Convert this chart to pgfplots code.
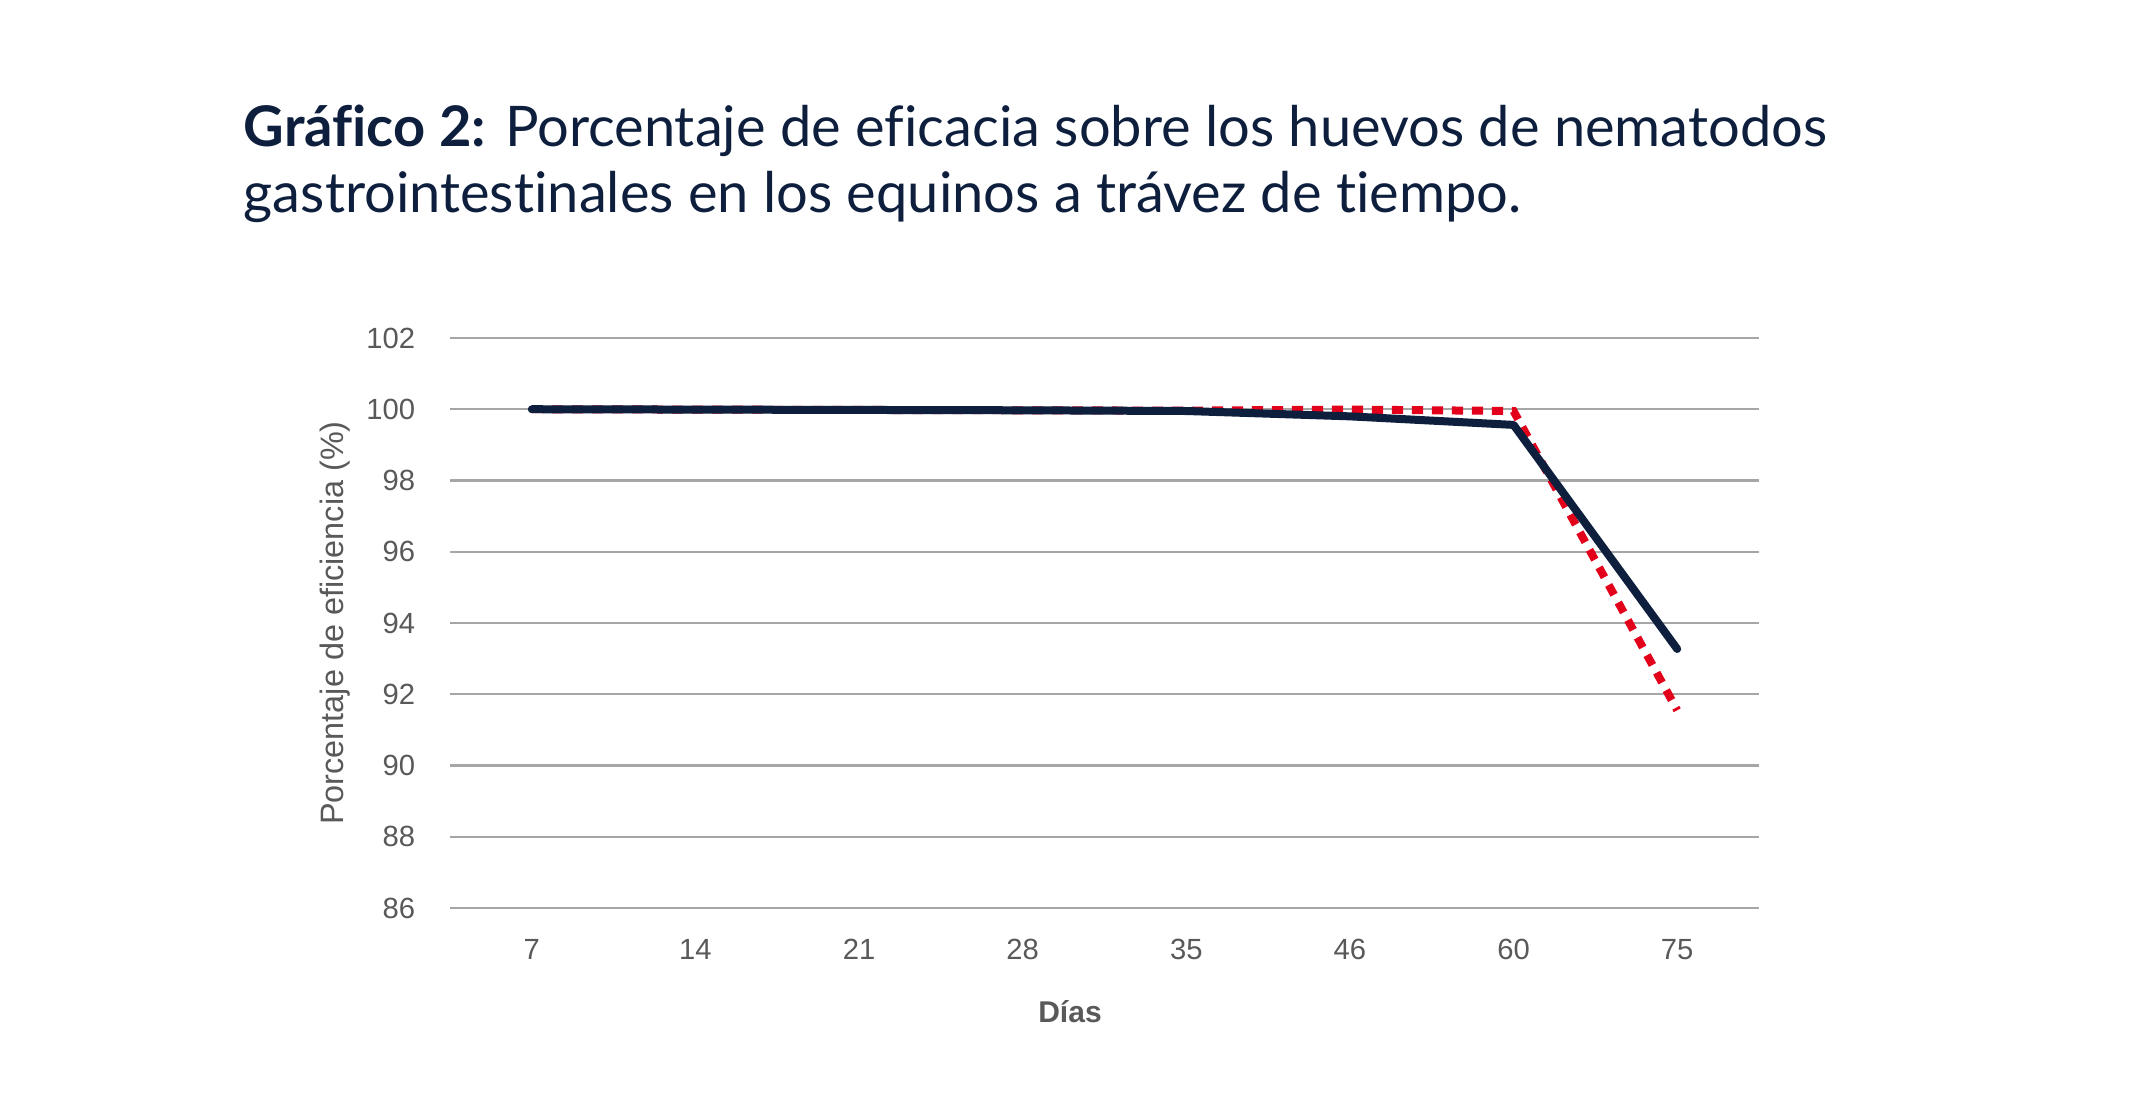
\documentclass[border=0pt]{standalone}
\usepackage{pgfplots}
\pgfplotsset{compat=1.18}
\usepackage{fontspec}
\setmainfont{Liberation Sans}
\newfontfamily\titlefont[Ligatures=NoCommon]{Lato}
\definecolor{navy}{HTML}{0E1F3E}
\definecolor{redd}{HTML}{E2001A}
\definecolor{gridg}{HTML}{A6A6A6}
\definecolor{txtg}{HTML}{595959}
\begin{document}
\begin{tikzpicture}
\path[use as bounding box] (0,0) rectangle (534.5pt,274.75pt);
\node[anchor=base west, inner sep=0pt, text=navy, font=\titlefont\fontsize{14}{16}\selectfont] at (60.75pt,238pt) {\textbf{Gráfico 2:} Porcentaje de eficacia sobre los huevos de nematodos};
\node[anchor=base west, inner sep=0pt, text=navy, font=\titlefont\fontsize{14}{16}\selectfont] at (60.75pt,221.5pt) {gastrointestinales en los equinos a trávez de tiempo.};
\begin{axis}[
  at={(112.5pt,47.75pt)}, anchor=south west,
  width=327.25pt, height=142.5pt, scale only axis,
  xmin=-0.5, xmax=7.5, ymin=86, ymax=102,
  xtick={0,...,7}, xticklabels={7,14,21,28,35,46,60,75},
  ytick={86,88,...,102},
  axis line style={draw=none},
  major tick length=0pt,
  ymajorgrids, grid style={gridg, line width=0.6pt},
  tick label style={font=\fontsize{7.3}{8}\selectfont, text=txtg},
  yticklabel style={anchor=east, inner sep=0pt, xshift=-8.5pt},
  xticklabel style={anchor=base, inner sep=0pt, yshift=-13pt},
  /pgf/number format/assume math mode=true,
  ylabel={Porcentaje de eficiencia (\%)},
  every axis y label/.style={at={(axis description cs:0,0.5)}, anchor=center, xshift=-28.8pt, rotate=90, font=\fontsize{8.1}{9}\selectfont, text=txtg},
  clip=false,
]
\addplot[redd, line width=2pt, dash pattern=on 2.8pt off 2.2pt] coordinates {(0,100) (1,99.99) (2,99.98) (3,99.97) (4,99.96) (5,99.99) (6,99.95) (7,91.55)};
\addplot[navy, line width=2pt, line cap=round, line join=round] coordinates {(0,100) (1,99.99) (2,99.98) (3,99.97) (4,99.95) (5,99.8) (6,99.56) (7,93.27)};
\end{axis}
\node[font=\bfseries\fontsize{7.5}{8}\selectfont, text=txtg] at (267.5pt,21.75pt) {Días};
\end{tikzpicture}
\end{document}
